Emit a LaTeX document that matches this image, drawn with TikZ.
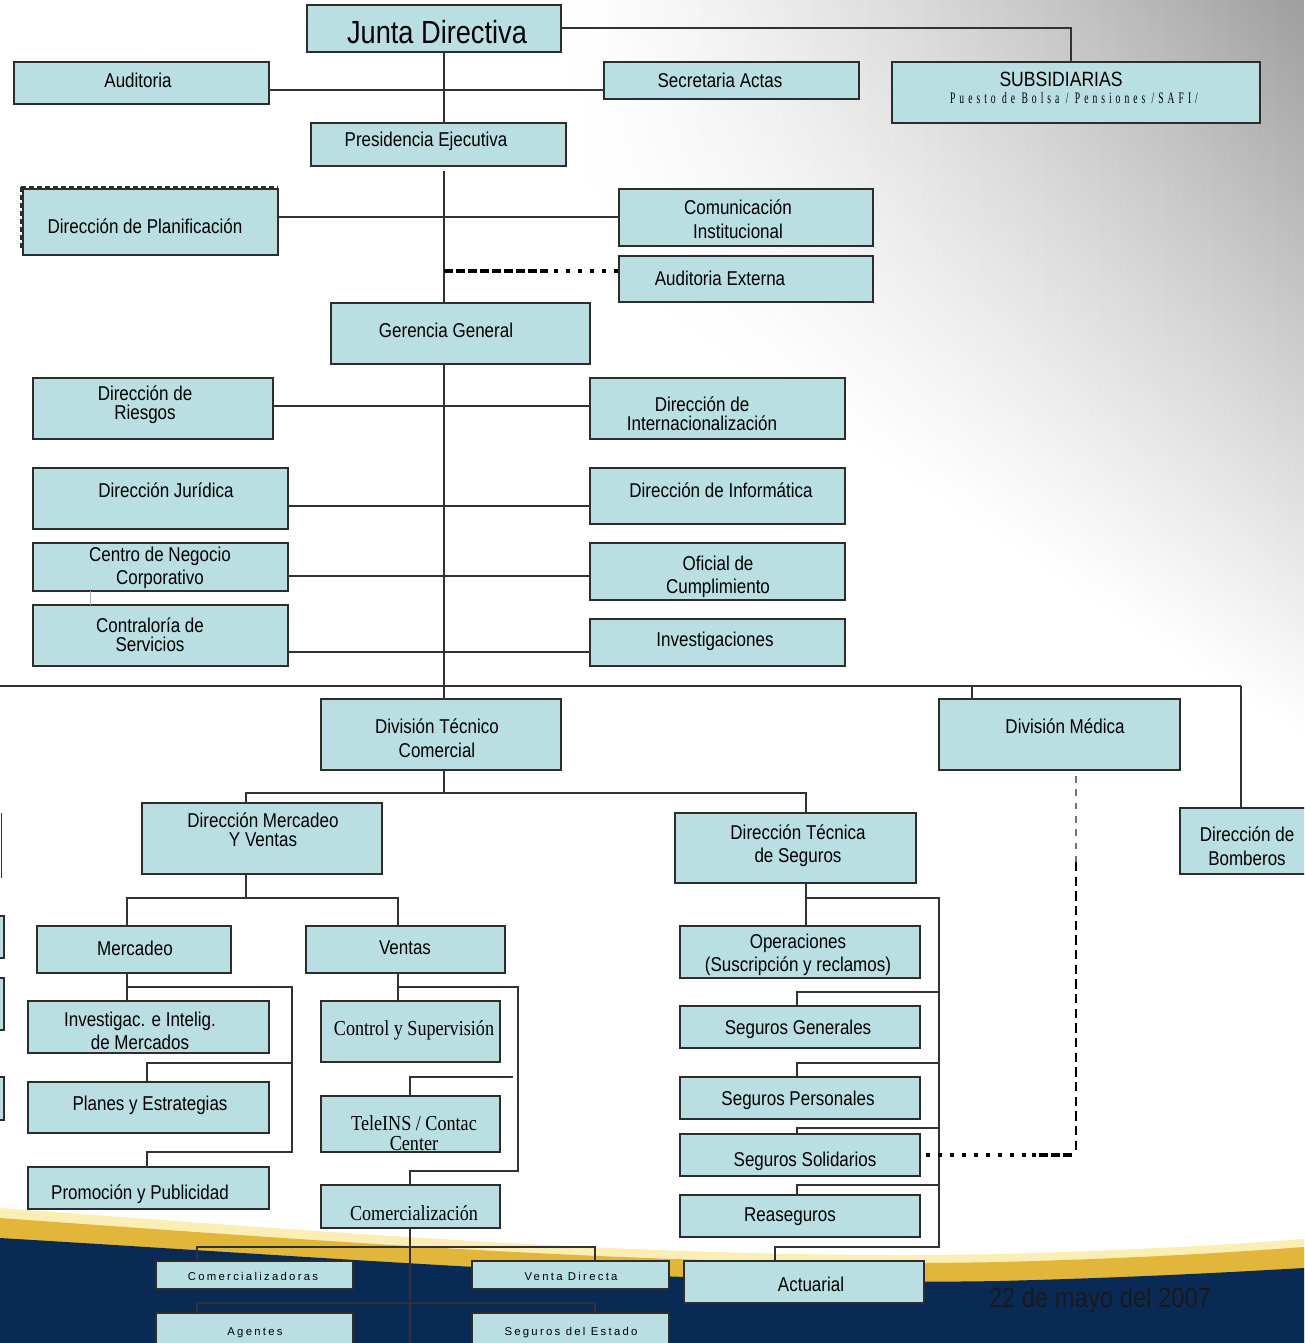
\documentclass[tikz,border=0pt]{standalone}
\usepackage{fontspec}
\setmainfont{Liberation Sans}[FakeStretch=0.85]
\newfontfamily\serifnarrow{Liberation Serif}[FakeStretch=0.85]
\newfontfamily\spacedfont{Liberation Sans}[LetterSpace=20]
\newfontfamily\subsfont{Liberation Serif}[FakeStretch=0.6,LetterSpace=25]
\usetikzlibrary{fadings,calc}
\definecolor{boxfill}{RGB}{186,223,226}
\definecolor{boxline}{RGB}{45,45,45}
\definecolor{connline}{RGB}{50,50,50}
\definecolor{navy}{RGB}{10,42,86}
\definecolor{gold}{RGB}{226,182,58}
\definecolor{paleg}{RGB}{250,238,180}
\tikzfading[name=fadedown, top color=transparent!0, bottom color=transparent!100]
\newcommand\mybox[5]{\node[box, anchor=north west, minimum width={(#4-#2)*0.75pt}, minimum height={(#5-#3)*0.75pt}] (#1) at (#2,#3) {};}
\begin{document}
\begin{tikzpicture}[x=0.75pt,y=-0.75pt,
 box/.style={draw=boxline, fill=boxfill, line width=0.9pt, inner sep=0pt, outer sep=0pt},
 conn/.style={draw=connline, line width=0.8pt},
 tx/.style={align=center, inner sep=0pt, font=\fontsize{15}{18}\selectfont},
 lsp/.style={font=\fontsize{15}{#1}\selectfont},
 ser/.style={align=center, inner sep=0pt, font=\serifnarrow\fontsize{16}{15}\selectfont},
 sm/.style={align=center, inner sep=0pt, font=\spacedfont\fontsize{8.5}{10}\selectfont},
]
\useasboundingbox (0,0) rectangle (1304,1343);
\clip (0,0) rectangle (1304,1343);
% background
\fill[white] (0,0) rectangle (1304,1343);
\foreach \i in {0,...,79}{
  \pgfmathsetmacro\xa{560+\i*9.3}
  \pgfmathsetmacro\xb{\xa+9.3}
  \pgfmathsetmacro\yb{260+\i*6}
  \pgfmathsetmacro\op{0.42*(\i/79)^1.2}
  \fill[black, opacity=\op, path fading=fadedown] (\xa,-80) rectangle (\xb,\yb);
}
\fill[paleg] (0,1208) .. controls (400,1238) and (700,1260) .. (1000,1254) .. controls (1150,1250) and (1250,1243) .. (1304,1239) -- (1304,1343) -- (0,1343) -- cycle;
\fill[gold] (0,1218) .. controls (400,1247) and (700,1268) .. (1000,1262) .. controls (1150,1258) and (1250,1251) .. (1304,1247) -- (1304,1343) -- (0,1343) -- cycle;
\fill[navy] (0,1238) .. controls (400,1262) and (700,1286) .. (1000,1281) .. controls (1150,1277) and (1250,1271) .. (1304,1268) -- (1304,1343) -- (0,1343) -- cycle;

% boxes
\mybox{junta}{307}{5}{561}{52}
\mybox{aud}{14}{62}{269}{104}
\mybox{sec}{604}{62}{859}{99}
\mybox{subs}{892}{62}{1260}{123}
\mybox{pres}{311}{123}{566}{166}
\draw[boxline, line width=2pt, dash pattern=on 4pt off 2pt] (21,187) -- (278,187);
\draw[boxline, line width=2pt, dash pattern=on 4pt off 2pt] (21,187) -- (21,250);
\mybox{plan}{23}{189}{278}{255}
\mybox{com}{619}{189}{873}{246}
\mybox{audext}{619}{256}{873}{302}
\mybox{ger}{331}{303}{590}{364}
\mybox{ries}{33}{378}{273}{439}
\mybox{intl}{590}{378}{845}{439}
\mybox{jur}{33}{468}{288}{529}
\mybox{inf}{590}{468}{845}{524}
\mybox{cen}{33}{543}{288}{591}
\mybox{ofi}{590}{543}{845}{600}
\mybox{cont}{33}{605}{288}{666}
\mybox{inv}{590}{619}{845}{666}
\mybox{dtc}{321}{699}{561}{770}
\mybox{dmed}{939}{699}{1180}{770}
\mybox{bomb}{1180}{808}{1312}{874}
\mybox{dmv}{142}{803}{382}{874}
\mybox{dts}{675}{813}{916}{883}
\mybox{merc}{37}{926}{231}{973}
\mybox{vent}{306}{926}{505}{973}
\mybox{inves}{28}{1001}{269}{1053}
\mybox{planes}{28}{1082}{269}{1133}
\mybox{promo}{28}{1167}{269}{1209}
\mybox{ctrl}{321}{1001}{500}{1062}
\mybox{tele}{321}{1096}{500}{1152}
\mybox{comz}{321}{1185}{500}{1228}
\mybox{cmz}{156}{1261}{353}{1289}
\mybox{vdir}{472}{1261}{669}{1289}
\mybox{agen}{156}{1313}{353}{1360}
\mybox{segest}{472}{1313}{669}{1360}
\mybox{oper}{680}{926}{920}{978}
\mybox{sgen}{680}{1006}{920}{1048}
\mybox{sper}{680}{1077}{920}{1119}
\mybox{ssol}{680}{1134}{920}{1176}
\mybox{reas}{680}{1195}{920}{1237}
\mybox{act}{684}{1261}{924}{1303}
% boxes cut by the left edge
\mybox{lf1}{-100}{916}{4}{958}
\mybox{lf2}{-100}{978}{4}{1030}
\mybox{lf3}{-100}{1077}{4}{1120}
\draw[connline] (0.8,813) -- (0.8,878);

% texts
\node[tx, font=\fontsize{24}{26}\selectfont] (junta-t) at (437,32) {Junta Directiva};
\node[tx] (aud-t) at (138,80) {Auditoria};
\node[tx] (sec-t) at (720,80) {Secretaria Actas};
\node[tx, font=\fontsize{15.5}{18}\selectfont] (subs-t) at (1061,79) {SUBSIDIARIAS};
\node[inner sep=0pt, font=\subsfont\fontsize{12}{13}\selectfont] (subs-s) at (1074,98) {Puesto de Bolsa / Pensiones /SAFI/};
\node[tx] (pres-t) at (426,141) {Presidencia Ejecutiva};
\node[tx] (plan-t) at (145,226) {Dirección de Planificación};
\node[tx] (com-t) at (738,219) {Comunicación\\Institucional};
\node[tx] (audext-t) at (720,278) {Auditoria Externa};
\node[tx] (ger-t) at (446,330) {Gerencia General};
\node[tx, lsp=14.5] (ries-t) at (145,405) {Dirección de\\Riesgos};
\node[tx, lsp=14.5] (intl-t) at (702,414) {Dirección de\\Internacionalización};
\node[tx] (jur-t) at (166,490) {Dirección Jurídica};
\node[tx] (inf-t) at (721,490) {Dirección de Informática};
\node[tx, lsp=17] (cen-t) at (160,568) {Centro de Negocio\\Corporativo};
\node[tx, lsp=17] (ofi-t) at (718,577) {Oficial de\\Cumplimiento};
\node[tx, lsp=14] (cont-t) at (150,635) {Contraloría de\\Servicios};
\node[tx] (inv-t) at (715,641) {Investigaciones};
\node[tx] (dtc-t) at (437,738) {División Técnico\\Comercial};
\node[tx] (dmed-t) at (1065,726) {División Médica};
\node[tx] (bomb-t) at (1247,846) {Dirección de\\Bomberos};
\node[tx, lsp=14.5] (dmv-t) at (263,830) {Dirección Mercadeo\\Y Ventas};
\node[tx, lsp=17] (dts-t) at (798,846) {Dirección Técnica\\de Seguros};
\node[tx] (merc-t) at (135,948) {Mercadeo};
\node[tx] (vent-t) at (405,948) {Ventas};
\node[tx, lsp=17] (inves-t) at (140,1031) {Investigac. e Intelig.\\de Mercados};
\node[tx] (planes-t) at (150,1105) {Planes y Estrategias};
\node[tx] (promo-t) at (140,1194) {Promoción y Publicidad};
\node[ser] (ctrl-t) at (414,1030) {Control y Supervisión};
\node[ser] (tele-t) at (414,1133) {TeleINS / Contac\\Center};
\node[ser] (comz-t) at (414,1213) {Comercialización};
\node[sm] (cmz-t) at (253,1276) {Comercializadoras};
\node[sm] (vdir-t) at (571,1276) {Venta Directa};
\node[sm] (agen-t) at (255,1333) {Agentes};
\node[sm] (segest-t) at (571,1333) {Seguros del Estado};
\node[tx, lsp=17] (oper-t) at (798,955) {Operaciones\\(Suscripción y reclamos)};
\node[tx] (sgen-t) at (798,1029) {Seguros Generales};
\node[tx] (sper-t) at (798,1100) {Seguros Personales};
\node[tx] (ssol-t) at (805,1161) {Seguros Solidarios};
\node[tx] (reas-t) at (790,1217) {Reaseguros};
\node[tx] (act-t) at (811,1284) {Actuarial};
\node[inner sep=0pt, font=\fontsize{21}{24}\selectfont, text=black!90] (date) at (1100,1300) {22 de mayo del 2007};

% connectors
\coordinate (sp) at (444,0);
\coordinate (y90) at (0,90);
\coordinate (y28) at (0,28);
\coordinate (x1071) at (1071,0);
\coordinate (y217) at (0,217);
\coordinate (y406) at (0,406);
\coordinate (y506) at (0,506);
\coordinate (y576) at (0,576);
\coordinate (y652) at (0,652);
\coordinate (y1155) at (0,1155);
\draw[conn] (sp |- junta.south) -- (sp |- pres.north);
\draw[conn] (aud.east |- y90) -- (sec.west |- y90);
\draw[conn] (junta.east |- y28) -| (x1071 |- subs.north);
\draw[conn] (444,171) -- (sp |- ger.north);
\draw[conn] (plan.east |- y217) -- (com.west |- y217);
\coordinate (ae) at (444,271);
\draw[black, line width=3pt, dash pattern=on 7pt off 2pt] (ae) -- ++(104,0);
\draw[black, line width=3pt, dash pattern=on 3pt off 6pt] ($(ae)+(110,0)$) -- (audext.west |- ae);
\draw[conn] (sp |- ger.south) -- (sp |- dtc.north);
\draw[conn] (ries.east |- y406) -- (intl.west |- y406);
\draw[conn] (jur.east |- y506) -- (inf.west |- y506);
\draw[conn] (cen.east |- y576) -- (ofi.west |- y576);
\draw[conn] (cont.east |- y652) -- (inv.west |- y652);
\draw[boxfill!60!gray, line width=0.5pt] (90,591) -- (90,605);
\draw[conn] (0,686) -- (1241,686);
\draw[conn] (972,686) -- (972,699);
\draw[conn] (1241,686) -- (1241,808);
% DTC
\draw[conn] (sp |- dtc.south) -- (444,793);
\draw[conn] (246,803) -- (246,793) -- (806,793) -- (806,813);
% DMV
\draw[conn] (246,874) -- (246,898);
\draw[conn] (127,926) -- (127,898) -- (398,898) -- (398,926);
% Mercadeo
\draw[conn] (127,973) -- (127,1001);
\draw[conn] (127,987) -- (292,987) -- (292,1152) -- (147,1152) -- (147,1167);
\draw[conn] (292,1063) -- (147,1063) -- (147,1082);
% Ventas
\draw[conn] (398,973) -- (398,1001);
\draw[conn] (398,987) -- (518,987) -- (518,1171) -- (410,1171) -- (410,1185);
\draw[conn] (513,1077) -- (410,1077) -- (410,1096);
% Comercializacion
\draw[conn] (410,1228) -- (410,1343);
\draw[conn] (197,1261) -- (197,1247) -- (595,1247) -- (595,1261);
\draw[conn] (197,1313) -- (197,1303) -- (595,1303) -- (595,1313);
% DTS
\draw[conn] (806,883) -- (806,926);
\draw[conn] (806,898) -- (939,898) -- (939,1247) -- (775,1247) -- (775,1261);
\draw[conn] (939,992) -- (797,992) -- (797,1006);
\draw[conn] (939,1063) -- (797,1063) -- (797,1077);
\draw[conn] (939,1128) -- (797,1128) -- (797,1134);
\draw[conn] (939,1185) -- (797,1185) -- (797,1195);
% dashed from Division Medica
\draw[black!55, line width=0.8pt, dash pattern=on 5pt off 5pt] (1076,776) -- (1076,862);
\draw[black, line width=1.5pt, dash pattern=on 7pt off 4pt] (1076,862) -- (1076,1153);
\draw[black, line width=3pt, dash pattern=on 7pt off 2pt] (1072,1155) -- (1032,1155);
\draw[black, line width=3pt, dash pattern=on 3pt off 6pt] (1026,1155) -- (ssol.east |- y1155);
\end{tikzpicture}
\end{document}
